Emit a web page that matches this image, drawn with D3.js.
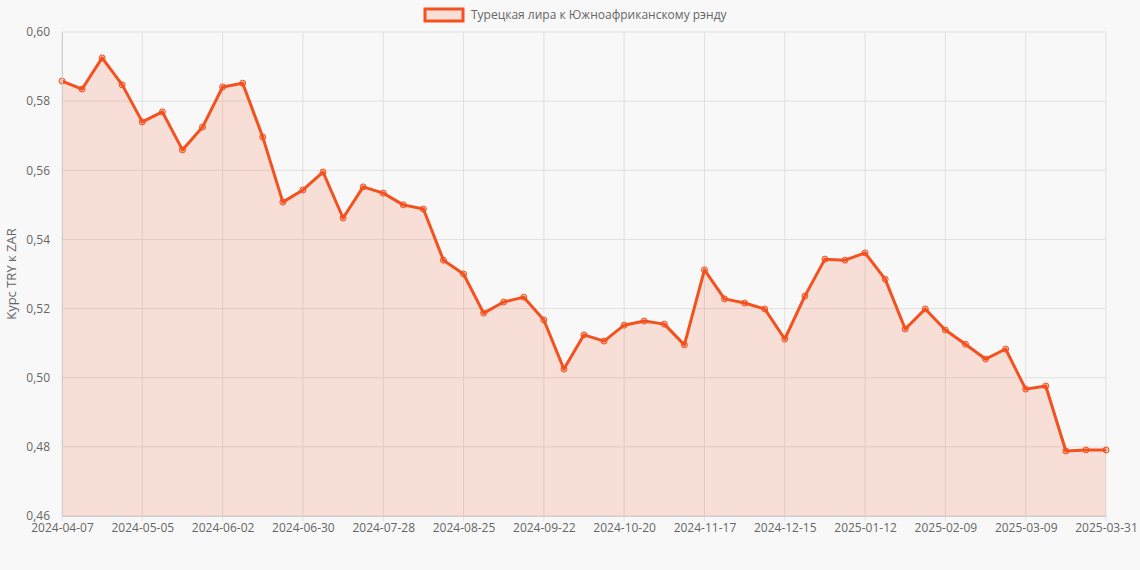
<!DOCTYPE html>
<html><head><meta charset="utf-8">
<script src="https://cdn.jsdelivr.net/npm/d3@7/dist/d3.min.js"></script>
<style>body{margin:0;background:#f8f8f8;font-family:"Open Sans",Arial,sans-serif}</style>
</head><body><svg id="canvas"></svg>
<script>
const values = [0.5858,0.5835,0.5925,0.5847,0.5740,0.5769,0.5659,0.5725,0.5841,0.5852,
  0.5696,0.5508,0.5543,0.5595,0.5462,0.5552,0.5534,0.5500,0.5488,0.5340,
  0.5300,0.5187,0.5219,0.5233,0.5167,0.5025,0.5124,0.5106,0.5152,0.5164,
  0.5155,0.5095,0.5312,0.5228,0.5216,0.5199,0.5112,0.5236,0.5343,0.5340,
  0.5361,0.5285,0.5141,0.5199,0.5138,0.5097,0.5054,0.5083,0.4967,0.4976,
  0.4788,0.4791,0.4791];
const yTicks = [0.46,0.48,0.50,0.52,0.54,0.56,0.58,0.60];
const seriesName = 'Турецкая лира к Южноафриканскому рэнду';
const yTitle = 'Курс TRY к ZAR';

// weekly dates from 2024-04-07, last point is 2025-03-31
const labels = values.map((v, i) => {
  if (i === values.length - 1) return '2025-03-31';
  const d = new Date(Date.UTC(2024, 3, 7 + i * 7));
  return d.toISOString().slice(0, 10);
});

const width = 1140, height = 570;
const padLeft = 62, padRight = 1106, padTop = 32, padBottom = 516;
const color = '#f4511e';

const canvas = d3.select('#canvas').attr('width', width).attr('height', height);

const xScale = d3.scalePoint().domain(labels).range([padLeft, padRight]);
const yScale = d3.scaleLinear().domain([0.46, 0.60]).range([padBottom, padTop]);

const tickLabels = labels.filter((d, i) => i % 4 === 0);

// grid
canvas.append('g').selectAll('line').data(yTicks).enter().append('line')
  .attr('x1', padLeft).attr('x2', padRight)
  .attr('y1', d => yScale(d)).attr('y2', d => yScale(d))
  .attr('stroke', '#e0e0e0');
canvas.append('g').selectAll('line').data(tickLabels).enter().append('line')
  .attr('x1', d => xScale(d)).attr('x2', d => xScale(d))
  .attr('y1', padTop).attr('y2', padBottom + 5)
  .attr('stroke', '#e0e0e0');

const area = d3.area().x((d, i) => xScale(labels[i])).y0(padBottom).y1(d => yScale(d));
const line = d3.line().x((d, i) => xScale(labels[i])).y(d => yScale(d));

canvas.append('path').datum(values).attr('d', area).attr('fill', 'rgba(244,81,30,0.15)');
canvas.append('path').datum(values).attr('d', line)
  .attr('fill', 'none').attr('stroke', color).attr('stroke-width', 3).attr('stroke-linejoin', 'round');

canvas.append('g').selectAll('circle').data(values).enter().append('circle')
  .attr('cx', (d, i) => xScale(labels[i])).attr('cy', d => yScale(d)).attr('r', 3)
  .attr('fill', 'rgba(244,81,30,0.3)').attr('stroke', color).attr('stroke-width', 1);

// axes
const xAxis = d3.axisBottom(xScale).tickValues(tickLabels).tickSize(0).tickPadding(12);
const yAxis = d3.axisLeft(yScale).tickValues(yTicks)
  .tickFormat(d => d3.format('.2f')(d).replace('.', ',')).tickSize(0).tickPadding(12);

const gx = canvas.append('g').attr('transform', 'translate(0,' + padBottom + ')').call(xAxis);
const gy = canvas.append('g').attr('transform', 'translate(' + padLeft + ',0)').call(yAxis);
[gx, gy].forEach(g => {
  g.select('.domain').attr('stroke', '#cfcfcf');
  g.selectAll('text').attr('fill', '#666').style('font-size', '12px').style('font-family', '"Open Sans",Arial,sans-serif');
});
gx.selectAll('text').attr('dy', '0.3em');

canvas.append('text').attr('transform', 'translate(16,' + ((padTop + padBottom) / 2) + ') rotate(-90)')
  .attr('text-anchor', 'middle').attr('fill', '#666').style('font-size', '13px').text(yTitle);

// legend
canvas.append('rect').attr('x', 425).attr('y', 9).attr('width', 38).attr('height', 12)
  .attr('fill', 'rgba(244,81,30,0.15)').attr('stroke', color).attr('stroke-width', 3);
canvas.append('text').attr('x', 471).attr('y', 19).attr('fill', '#666')
  .style('font-size', '12px').text(seriesName);
</script></body></html>
